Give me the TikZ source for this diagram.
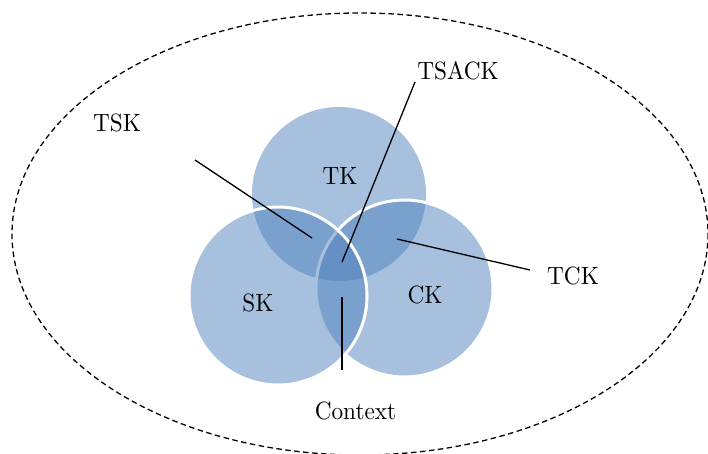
\documentclass[tikz,border=0pt]{standalone}
\usepackage{fontspec}
\setmainfont{lmroman10-regular}[Extension=.otf]
\newcommand{\lbltext}[1]{\scalebox{0.93}[1]{#1}}
\begin{document}
\begin{tikzpicture}[x=1pt,y=-1pt,
  lbl/.style={font=\fontsize{25}{29}\selectfont, inner sep=0pt, anchor=base},
  setcircle/.style={fill=setblue, fill opacity=0.5},
  rimmed/.style={setcircle, draw=white, draw opacity=1, line width=3pt},
  leader/.style={draw=black, line width=1.3pt},
  frame/.style={draw=black, line width=1.3pt, dash pattern=on 5.5pt off 3.5pt}]
\definecolor{setblue}{HTML}{4F81BD}
\path[use as bounding box] (0,0) rectangle (708,454);
\clip (0,0) rectangle (708,454);
% outer dashed ellipse
\draw[frame] (360,234) ellipse [x radius=348, y radius=221];
% circles
\path[setcircle] (339,194) circle [radius=87];
\path[rimmed] (404.5,288.5) circle [radius=88.5];
\path[rimmed] (278,296) circle [radius=89];
% labels
\node[lbl] (tk) at (340,185) {\lbltext{TK}};
\node[lbl] (sk) at (258,311) {\lbltext{SK}};
\node[lbl] (ck) at (425,303) {\lbltext{CK}};
\node[lbl] (tsk) at (117,132) {\lbltext{TSK}};
\node[lbl] (tsack) at (458,80) {\lbltext{TSACK}};
\node[lbl] (tck) at (573,284) {\lbltext{TCK}};
\node[lbl] (context) at (355.5,419) {\lbltext{Context}};
% leader end points
\coordinate (tskA) at (195,160);
\coordinate (tskB) at (312,238);
\coordinate (tsackA) at (415,82);
\coordinate (tsackB) at (342,262);
\coordinate (tckA) at (530,270);
\coordinate (tckB) at (397,239);
\coordinate (ctxA) at (342,370);
\coordinate (ctxB) at (342,297);
\draw[leader] (tskA) -- (tskB);
\draw[leader] (tsackA) -- (tsackB);
\draw[leader] (tckA) -- (tckB);
\draw[leader] (ctxA) -- (ctxB);
\end{tikzpicture}
\end{document}
